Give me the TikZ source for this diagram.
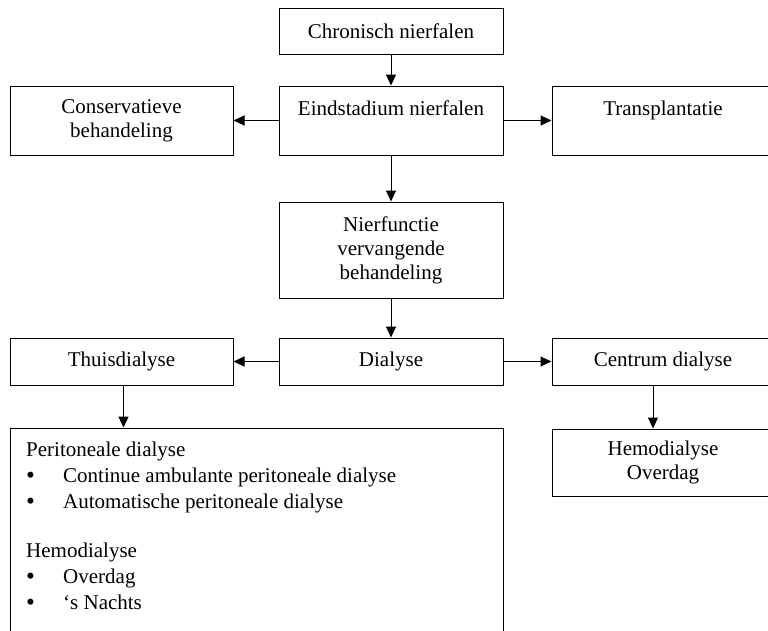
\documentclass[tikz,border=0pt]{standalone}
\usepackage{fontspec}
\usepackage{graphicx}
\setmainfont{Liberation Serif}
\usetikzlibrary{arrows.meta}
\newcommand{\dotitem}[1]{\makebox[37pt][l]{\raisebox{-0.6pt}{\scalebox{1.2}{\textbullet}}}#1}

\begin{document}
\begin{tikzpicture}[x=1pt, y=-1pt,
    stagebox/.style={draw, line width=1pt, minimum width=224pt, align=center, inner sep=0pt, font=\fontsize{21}{24}\selectfont},
    flow/.style={line width=1pt, -{Triangle[length=11pt, width=10pt]}}]
    \useasboundingbox (0,0) rectangle (768,630);
    \clip (0,0) rectangle (768,630);

    % Top row
    \node[stagebox, minimum height=46pt] (chronic) at (391,31) {Chronisch nierfalen};

    % Second row
    \node[stagebox, minimum height=69pt] (endstage) at (391,120.5) {Eindstadium nierfalen\\ \mbox{}};
    \node[stagebox, minimum width=223pt, minimum height=69pt] (conservative) at (121.5,120.5) {Conservatieve\\ behandeling};
    \node[stagebox, minimum width=222pt, minimum height=69pt] (transplant) at (663,120.5) {Transplantatie\\ \mbox{}};

    % Middle
    \node[stagebox, minimum height=96pt] (rrt) at (391,250) {Nierfunctie\\ vervangende\\ behandeling};

    % Dialysis row
    \node[stagebox, minimum height=47pt] (dialysis) at (391,361.5) {Dialyse};
    \node[stagebox, minimum width=223pt, minimum height=47pt] (home) at (121.5,361.5) {Thuisdialyse};
    \node[stagebox, minimum width=222pt, minimum height=47pt] (centre) at (663,361.5) {Centrum dialyse};

    % Bottom boxes
    \node[stagebox, minimum width=222pt, minimum height=67pt] (hemo) at (663,462.5) {Hemodialyse\\ Overdag};
    \node[stagebox, minimum width=493pt, minimum height=224pt] (homebox) at (256.5,540) {};
    \node[anchor=north west, align=left, inner sep=0pt, font=\fontsize{21}{26}\selectfont] (homelist) at (26,442) {
        Peritoneale dialyse\\
        \dotitem{Continue ambulante peritoneale dialyse}\\
        \dotitem{Automatische peritoneale dialyse}\\[23pt]
        Hemodialyse\\
        \dotitem{Overdag}\\
        \dotitem{‘s Nachts}
    };

    % Arrows
    \draw[flow] (chronic) -- (endstage);
    \draw[flow] (endstage) -- (conservative);
    \draw[flow] (endstage) -- (transplant);
    \draw[flow] (endstage) -- (rrt);
    \draw[flow] (rrt) -- (dialysis);
    \draw[flow] (dialysis) -- (home);
    \draw[flow] (dialysis) -- (centre);
    \draw[flow] ([xshift=2pt]home.south) -- ([xshift=2pt]home.south |- homebox.north);
    \draw[flow] ([xshift=-10pt]centre.south) -- ([xshift=-10pt]centre.south |- hemo.north);
\end{tikzpicture}
\end{document}
